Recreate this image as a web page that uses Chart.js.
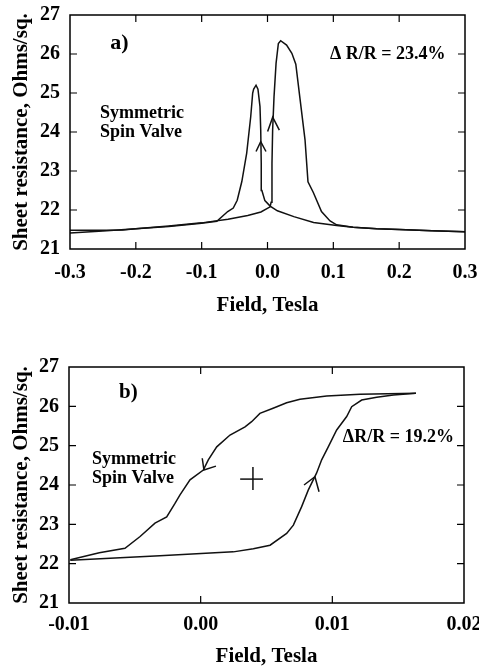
<!DOCTYPE html>
<html>
<head>
<meta charset="utf-8">
<script src="https://cdn.jsdelivr.net/npm/chart.js@4.4.0/dist/chart.umd.min.js"></script>
<style>
  html, body { margin: 0; padding: 0; background: #fff; }
  .panel { position: absolute; left: 0; width: 479px; }
  #wrapA { top: 0; height: 330px; }
  #wrapB { top: 330px; height: 339px; }
</style>
</head>
<body>
<div class="panel" id="wrapA"><canvas id="chartA" width="479" height="330"></canvas></div>
<div class="panel" id="wrapB"><canvas id="chartB" width="479" height="339"></canvas></div>
<script>
// ---- panel a) : field sweep up (-0.3 -> +0.3)
const fieldUpA = [-0.3, -0.25, -0.2, -0.15, -0.1, -0.06, -0.03, -0.01, 0.004, 0.0055, 0.0068, 0.0078, 0.0099, 0.013, 0.0165, 0.02, 0.029, 0.037, 0.043, 0.0494, 0.057, 0.0615, 0.0696, 0.082, 0.095, 0.105, 0.13, 0.166, 0.2, 0.25, 0.3];
const resUpA   = [21.41, 21.46, 21.52, 21.59, 21.67, 21.76, 21.86, 21.95, 22.08, 22.2, 23.2, 24.05, 24.9, 25.76, 26.27, 26.34, 26.23, 26.02, 25.74, 24.85, 23.8, 22.72, 22.45, 21.96, 21.72, 21.62, 21.56, 21.52, 21.5, 21.47, 21.44];
// ---- panel a) : field sweep down (+0.3 -> -0.3)
const fieldDownA = [0.3, 0.25, 0.2, 0.166, 0.13, 0.105, 0.07, 0.04, 0.015, 0.004, -0.004, -0.0085, -0.0095, -0.0103, -0.0114, -0.0145, -0.0174, -0.021, -0.0225, -0.0255, -0.0316, -0.039, -0.046, -0.052, -0.0604, -0.077, -0.1, -0.15, -0.2, -0.22, -0.25, -0.3];
const resDownA   = [21.44, 21.47, 21.5, 21.52, 21.56, 21.6, 21.68, 21.83, 21.98, 22.1, 22.24, 22.5, 23.2, 24.05, 24.65, 25.1, 25.2, 25.1, 25.0, 24.39, 23.46, 22.73, 22.25, 22.05, 21.96, 21.71, 21.66, 21.58, 21.52, 21.49, 21.48, 21.48];

// ---- panel b) : field sweep down (upper branch)
const fieldDownB = [0.01635, 0.0121, 0.00957, 0.00754, 0.00653, 0.0055, 0.0045, 0.00387, 0.00337, 0.00223, 0.00122, 0.00058, 0.0002, -0.00081, -0.00157, -0.00195, -0.00258, -0.00347, -0.0046, -0.00575, -0.0077, -0.0099];
const resDownB   = [26.33, 26.31, 26.26, 26.18, 26.09, 25.95, 25.82, 25.61, 25.48, 25.27, 24.97, 24.64, 24.38, 24.13, 23.75, 23.53, 23.19, 23.03, 22.69, 22.39, 22.28, 22.1];
// ---- panel b) : field sweep up (lower branch)
const fieldUpB = [-0.0099, -0.0031, 0.00248, 0.004, 0.00527, 0.00653, 0.00704, 0.00767, 0.00817, 0.0088, 0.00919, 0.00969, 0.01033, 0.01109, 0.01147, 0.01223, 0.01337, 0.01464, 0.01635];
const resUpB   = [22.09, 22.2, 22.3, 22.38, 22.47, 22.77, 22.98, 23.45, 23.87, 24.3, 24.64, 24.97, 25.4, 25.74, 25.99, 26.16, 26.23, 26.29, 26.33];

// sweep-direction arrowheads and centre cross (data units)
const arrowA1x = [-0.0174, -0.0103, -0.0023], arrowA1y = [23.5, 23.75, 23.5];
const arrowA2x = [0.0002, 0.0079, 0.018],     arrowA2y = [24.01, 24.38, 24.05];
const arrowB1x = [0.00012, 0.00025, 0.00116], arrowB1y = [24.68, 24.38, 24.48];
const arrowB2x = [0.00785, 0.00868, 0.00899], arrowB2y = [24.0, 24.21, 23.83];
const crossHx = [0.003, 0.00473],  crossHy = [24.15, 24.15];
const crossVx = [0.00397, 0.00397], crossVy = [24.46, 23.87];

// tick labels
const ticksXA = [-0.3, -0.2, -0.1, 0.0, 0.1, 0.2, 0.3];
const ticksXB = [-0.01, 0.0, 0.01, 0.02];
const ticksY = [21, 22, 23, 24, 25, 26, 27];

const FONT = '"Liberation Serif", "Times New Roman", serif';

let pts = (xs, ys) => xs.map((x, i) => ({x: x, y: ys[i]}));
let line = (xs, ys) => ({
    data: pts(xs, ys),
    showLine: true,
    borderColor: '#111',
    borderWidth: 1.5,
    pointRadius: 0,
    tension: 0,
    fill: false
});

// frame, inward ticks on all four sides and the text notes
const framePlugin = {
    id: 'frame',
    afterDatasetsDraw(chart, args, opts) {
        const ctx = chart.ctx, a = chart.chartArea;
        const xs = chart.scales.x, ys = chart.scales.y;
        ctx.save();
        ctx.strokeStyle = '#000';
        ctx.lineWidth = 1.5;
        ctx.strokeRect(a.left, a.top, a.right - a.left, a.bottom - a.top);
        ctx.lineWidth = 1.2;
        ctx.beginPath();
        xs.ticks.forEach(t => {
            const p = xs.getPixelForValue(t.value);
            if (p <= a.left + 1 || p >= a.right - 1) return;
            ctx.moveTo(p, a.bottom); ctx.lineTo(p, a.bottom - 7);
            ctx.moveTo(p, a.top); ctx.lineTo(p, a.top + 7);
        });
        ys.ticks.forEach(t => {
            const p = ys.getPixelForValue(t.value);
            if (p <= a.top + 1 || p >= a.bottom - 1) return;
            ctx.moveTo(a.left, p); ctx.lineTo(a.left + 7, p);
            ctx.moveTo(a.right, p); ctx.lineTo(a.right - 7, p);
        });
        ctx.stroke();
        ctx.fillStyle = '#000';
        ctx.textAlign = 'left';
        ctx.textBaseline = 'middle';
        (opts.notes || []).forEach(n => {
            ctx.font = 'bold ' + n.size + 'px ' + FONT;
            ctx.fillText(n.text, xs.getPixelForValue(n.x), ys.getPixelForValue(n.y));
        });
        ctx.restore();
    }
};

let makeChart = (id, cfg) => {
    return new Chart(document.getElementById(id), {
        type: 'scatter',
        data: { datasets: cfg.datasets },
        options: {
            responsive: false,
            animation: false,
            layout: { padding: { left: 0, right: cfg.padRight, top: cfg.padTop, bottom: 0 } },
            plugins: {
                legend: { display: false },
                tooltip: { enabled: false },
                frame: { notes: cfg.notes }
            },
            scales: {
                x: {
                    type: 'linear',
                    min: cfg.xMin, max: cfg.xMax,
                    afterBuildTicks: s => { s.ticks = cfg.xTicks.map(v => ({value: v})); },
                    afterFit: s => { s.height = cfg.xHeight; s.paddingLeft = 0; s.paddingRight = 0; },
                    grid: { display: false, drawTicks: false },
                    border: { display: false },
                    ticks: {
                        padding: cfg.xLabelPad,
                        color: '#000',
                        maxRotation: 0,
                        font: { family: FONT, size: 20, weight: 'bold' },
                        callback: v => v.toFixed(cfg.digits)
                    },
                    title: {
                        display: true,
                        text: 'Field, Tesla',
                        color: '#000',
                        padding: { top: 0, bottom: cfg.xTitlePad },
                        font: { family: FONT, size: 21, weight: 'bold' }
                    }
                },
                y: {
                    type: 'linear',
                    min: 21, max: 27,
                    afterBuildTicks: s => { s.ticks = ticksY.map(v => ({value: v})); },
                    afterFit: s => { s.width = cfg.yWidth; s.paddingTop = 0; s.paddingBottom = 0; },
                    grid: { display: false, drawTicks: false },
                    border: { display: false },
                    ticks: {
                        padding: 10,
                        color: '#000',
                        font: { family: FONT, size: 20, weight: 'bold' }
                    },
                    title: {
                        display: true,
                        text: 'Sheet resistance, Ohms/sq.',
                        color: '#000',
                        padding: { top: 9, bottom: 0 },
                        font: { family: FONT, size: 21, weight: 'bold' }
                    }
                }
            }
        },
        plugins: [framePlugin]
    });
};

makeChart('chartA', {
    datasets: [
        line(fieldUpA, resUpA),
        line(fieldDownA, resDownA),
        line(arrowA1x, arrowA1y),
        line(arrowA2x, arrowA2y)
    ],
    xMin: -0.3, xMax: 0.3, xTicks: ticksXA, digits: 1,
    padTop: 15, padRight: 14, yWidth: 70, xHeight: 81, xLabelPad: 12, xTitlePad: 12,
    notes: [
        { text: 'a)', x: -0.239, y: 26.28, size: 22 },
        { text: '\u0394 R/R = 23.4%', x: 0.095, y: 26.0, size: 18 },
        { text: 'Symmetric', x: -0.2544, y: 24.49, size: 18 },
        { text: 'Spin Valve', x: -0.2544, y: 24.0, size: 18 }
    ]
});

makeChart('chartB', {
    datasets: [
        line(fieldDownB, resDownB),
        line(fieldUpB, resUpB),
        line(arrowB1x, arrowB1y),
        line(arrowB2x, arrowB2y),
        line(crossHx, crossHy),
        line(crossVx, crossVy)
    ],
    xMin: -0.01, xMax: 0.02, xTicks: ticksXB, digits: 2,
    padTop: 37, padRight: 15, yWidth: 69, xHeight: 66, xLabelPad: 10, xTitlePad: 0,
    notes: [
        { text: 'b)', x: -0.0062, y: 26.36, size: 21 },
        { text: '\u0394R/R = 19.2%', x: 0.0108, y: 25.2, size: 18 },
        { text: 'Symmetric', x: -0.00825, y: 24.64, size: 18 },
        { text: 'Spin Valve', x: -0.00825, y: 24.18, size: 18 }
    ]
});
</script>
</body>
</html>
